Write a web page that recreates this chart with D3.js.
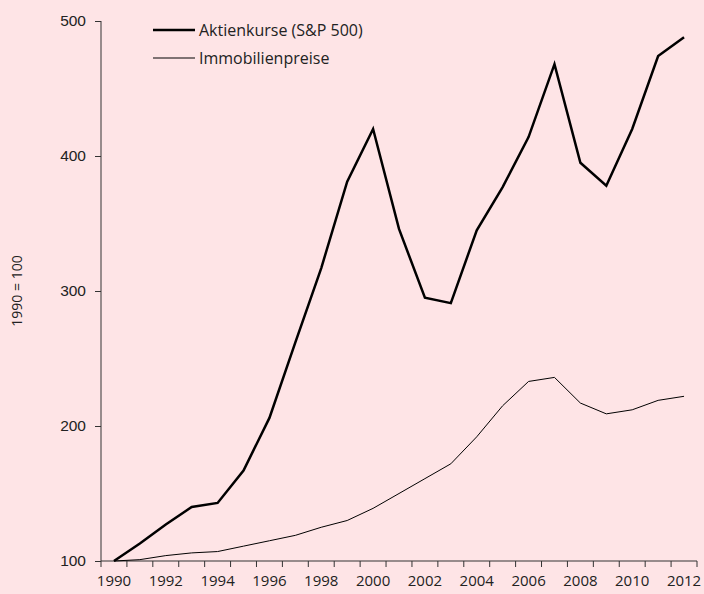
<!DOCTYPE html>
<html>
<head>
<meta charset="utf-8">
<script src="https://cdn.jsdelivr.net/npm/d3@7"></script>
<style>
    html, body { margin: 0; padding: 0; background: #fee4e6; overflow: hidden; }
    svg { display: block; font-family: 'Open Sans', sans-serif; }
    .axis line, .axis path { stroke: #333; }
</style>
</head>
<body>
<div id="chart"></div>
<script>
const years = d3.range(1990, 2013);
const stockPrices = [100, 113, 127, 140, 143, 167, 206, 262, 317, 381, 420, 346, 295, 291, 345, 377, 414, 468, 395, 378, 420, 474, 488];
const housePrices = [100, 101, 104, 106, 107, 111, 115, 119, 125, 130, 139, 150, 161, 172, 192, 215, 233, 236, 217, 209, 212, 219, 222];
const yTicks = [100, 200, 300, 400, 500];
const xTickLabels = years.filter((year) => year % 2 === 0);

const series = [
    { name: 'Aktienkurse (S&P 500)', values: stockPrices, width: 2.5 },
    { name: 'Immobilienpreise', values: housePrices, width: 1 }
];

const width = 704;
const height = 594;
const margin = { top: 21, right: 7, bottom: 33, left: 101 };
const innerWidth = width - margin.left - margin.right;
const innerHeight = height - margin.top - margin.bottom;
const textColor = '#222';
const labelSize = '15.5px';

const svg = d3.select('#chart').append('svg')
    .attr('width', width)
    .attr('height', height);

svg.append('rect')
    .attr('width', width)
    .attr('height', height)
    .attr('fill', '#fee4e6');

const chartGroup = svg.append('g')
    .attr('transform', `translate(${margin.left},${margin.top})`);

const xScale = d3.scaleBand()
    .domain(years)
    .range([0, innerWidth])
    .padding(0);

const yScale = d3.scaleLinear()
    .domain([100, 500])
    .range([innerHeight, 0]);

const xCenter = (year) => xScale(year) + xScale.bandwidth() / 2;

// category axis: ticks between categories, a label every second year
const xAxis = chartGroup.append('g')
    .attr('class', 'axis')
    .attr('transform', `translate(0,${innerHeight})`);

xAxis.append('line')
    .attr('x1', 0)
    .attr('x2', innerWidth)
    .attr('stroke-width', 1);

xAxis.selectAll('.x-tick')
    .data(years.concat([years[years.length - 1] + 1]))
    .enter()
    .append('line')
    .attr('class', 'x-tick')
    .attr('x1', (year, index) => index * xScale.bandwidth())
    .attr('x2', (year, index) => index * xScale.bandwidth())
    .attr('y1', 0)
    .attr('y2', 6);

xAxis.selectAll('.x-label')
    .data(xTickLabels)
    .enter()
    .append('text')
    .attr('class', 'x-label')
    .attr('x', (year) => xCenter(year))
    .attr('y', 25)
    .attr('text-anchor', 'middle')
    .attr('fill', textColor)
    .style('font-size', '15px')
    .text((year) => year);

chartGroup.append('g')
    .attr('class', 'axis')
    .call(d3.axisLeft(yScale).tickValues(yTicks).tickSize(6).tickPadding(9))
    .call((group) => group.select('.domain').attr('d', `M0,0V${innerHeight}`))
    .call((group) => group.selectAll('text')
        .attr('font-family', null)
        .attr('font-size', null)
        .attr('fill', textColor)
        .style('font-size', labelSize));

svg.append('text')
    .attr('transform', `translate(17,${margin.top + innerHeight / 2}) rotate(-90)`)
    .attr('text-anchor', 'middle')
    .attr('dy', '0.35em')
    .attr('fill', textColor)
    .style('font-size', '14px')
    .text('1990 = 100');

const line = d3.line()
    .x((datum, index) => xCenter(years[index]))
    .y((datum) => yScale(datum));

chartGroup.selectAll('.series-line')
    .data(series)
    .enter()
    .append('path')
    .attr('class', 'series-line')
    .attr('d', (datum) => line(datum.values))
    .attr('fill', 'none')
    .attr('stroke', '#000')
    .attr('stroke-width', (datum) => datum.width)
    .attr('stroke-linejoin', 'miter');

const legend = svg.append('g')
    .attr('transform', 'translate(153,30)');

const legendItems = legend.selectAll('.legend-item')
    .data(series)
    .enter()
    .append('g')
    .attr('class', 'legend-item')
    .attr('transform', (datum, index) => `translate(0,${index * 28})`);

legendItems.append('line')
    .attr('x1', 0)
    .attr('x2', 42)
    .attr('stroke', '#000')
    .attr('stroke-width', (datum) => datum.width);

legendItems.append('text')
    .attr('x', 46)
    .attr('dy', '0.35em')
    .attr('fill', textColor)
    .style('font-size', '16px')
    .text((datum) => datum.name);
</script>
</body>
</html>
